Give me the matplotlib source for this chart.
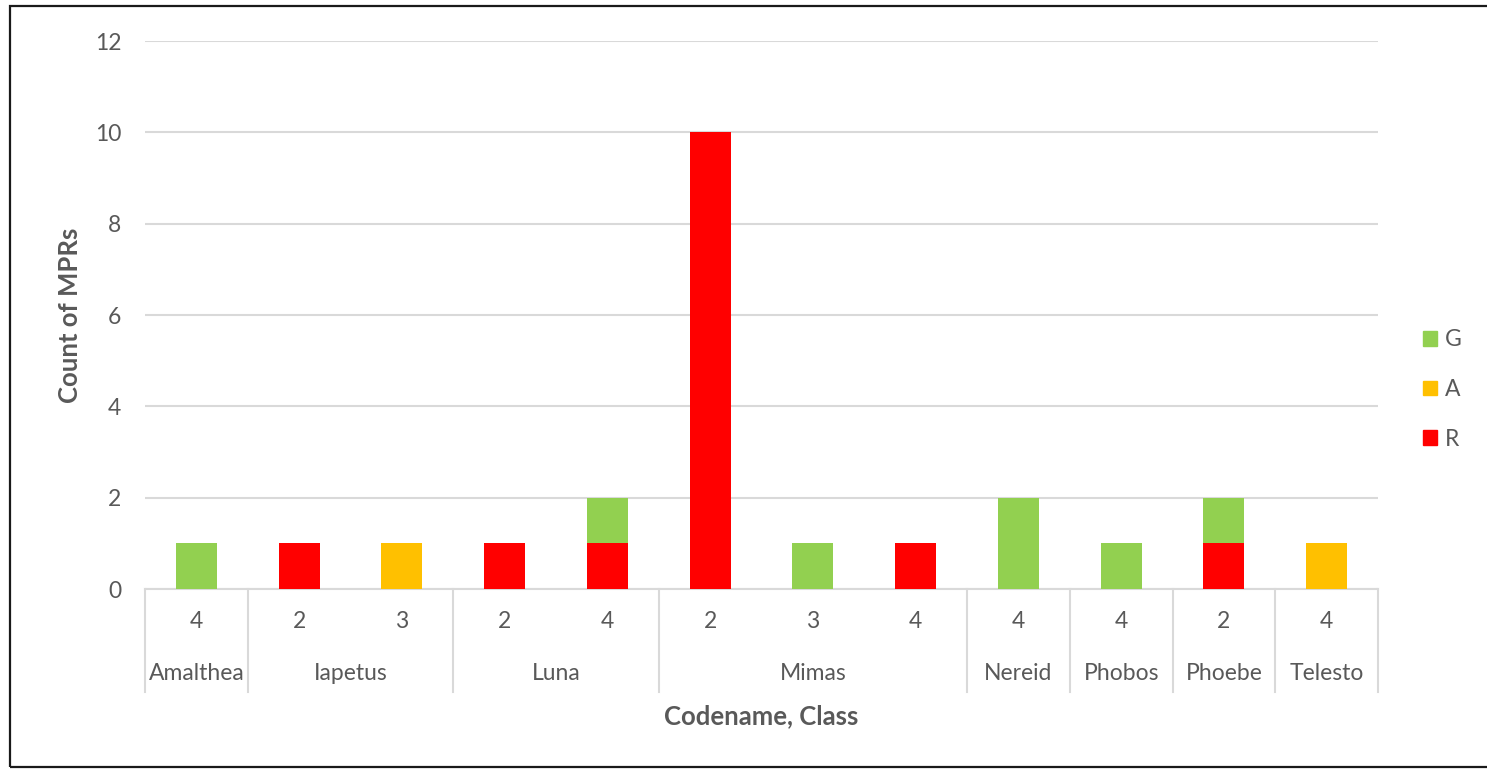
"""Stacked MPR counts by codename and class (Excel-style two-level axis)."""

import numpy as np
import matplotlib
matplotlib.use("Agg")
import matplotlib.pyplot as plt
import matplotlib.patches as mpatches

plt.rcParams["font.family"] = ["Lato", "DejaVu Sans"]

# ── data ──────────────────────────────────────────────────────────────────────
codenames = ["Amalthea", "Iapetus", "Iapetus", "Luna", "Luna", "Mimas",
             "Mimas", "Mimas", "Nereid", "Phobos", "Phoebe", "Telesto"]
classes = ["4", "2", "3", "2", "4", "2", "3", "4", "4", "4", "2", "4"]
r_counts = [0, 1, 0, 1, 1, 10, 0, 1, 0, 0, 1, 0]
a_counts = [0, 0, 1, 0, 0, 0, 0, 0, 0, 0, 0, 1]
g_counts = [1, 0, 0, 0, 1, 0, 1, 0, 2, 1, 1, 0]

TXT = "#595959"
GRID = "#d9d9d9"
COL_G, COL_A, COL_R = "#92d050", "#ffc000", "#ff0000"
FS = 16.5

fig = plt.figure(figsize=(14.87, 7.69), dpi=100)
ax = fig.add_axes([145 / 1487, 1 - 589 / 769, 1233 / 1487, 548 / 769])

x = np.arange(len(classes))
r = np.array(r_counts)
a = np.array(a_counts)
g = np.array(g_counts)
w = 0.4

ax.bar(x, r, width=w, color=COL_R, zorder=3, label="R")
ax.bar(x, a, width=w, bottom=r, color=COL_A, zorder=3, label="A")
ax.bar(x, g, width=w, bottom=r + a, color=COL_G, zorder=3, label="G")

ax.set_xlim(-0.5, len(classes) - 0.5)
ax.set_ylim(0, 12)
ax.set_yticks(range(0, 13, 2))
ax.grid(axis="y", color=GRID, linewidth=1.5, zorder=0)
ax.tick_params(axis="y", length=0, pad=17, labelsize=FS, labelcolor=TXT)
ax.tick_params(axis="x", length=0, labelbottom=False)
for side in ("top", "right", "left"):
    ax.spines[side].set_visible(False)
ax.spines["bottom"].set_color(GRID)
ax.spines["bottom"].set_linewidth(1.5)

# ── two-level category axis ───────────────────────────────────────────────────
trans = ax.get_xaxis_transform()
for xi, cl in zip(x, classes):
    ax.text(xi, -0.06, cl, transform=trans, ha="center", va="center",
            fontsize=FS, color=TXT)

groups = []
for i, name in enumerate(codenames):
    if groups and groups[-1][0] == name:
        groups[-1][2] = i
    else:
        groups.append([name, i, i])

bounds = [-0.5] + [grp[2] + 0.5 for grp in groups]
for b in bounds:
    ax.plot([b, b], [0, -0.188], transform=trans, color=GRID,
            linewidth=1.5, clip_on=False, zorder=1)
for name, i0, i1 in groups:
    ax.text((i0 + i1) / 2, -0.155, name, transform=trans, ha="center",
            va="center", fontsize=FS, color=TXT)

ax.text(0.5, -0.232, "Codename, Class", transform=ax.transAxes, ha="center",
        va="center", fontsize=18.5, fontweight="bold", color=TXT)
ax.text(-0.061, 0.5, "Count of MPRs", transform=ax.transAxes, ha="center",
        va="center", rotation=90, fontsize=18.5, fontweight="bold", color=TXT)

# legend: G, A, R top to bottom
handles = [mpatches.Patch(color=c) for c in (COL_G, COL_A, COL_R)]
leg = ax.legend(handles, ["G", "A", "R"], loc="center left",
                bbox_to_anchor=(1.02, 0.364), frameon=False, fontsize=FS,
                handlelength=0.6, handleheight=0.6, handletextpad=0.35,
                labelspacing=1.25, labelcolor=TXT)

# outer chart border
fig.patches.append(mpatches.Rectangle(
    (10 / 1487, 2 / 769), 1.0, 761 / 769, transform=fig.transFigure,
    fill=False, edgecolor="#1a1a1a", linewidth=1.6))

fig.savefig("out.png", dpi=100, facecolor="white")
